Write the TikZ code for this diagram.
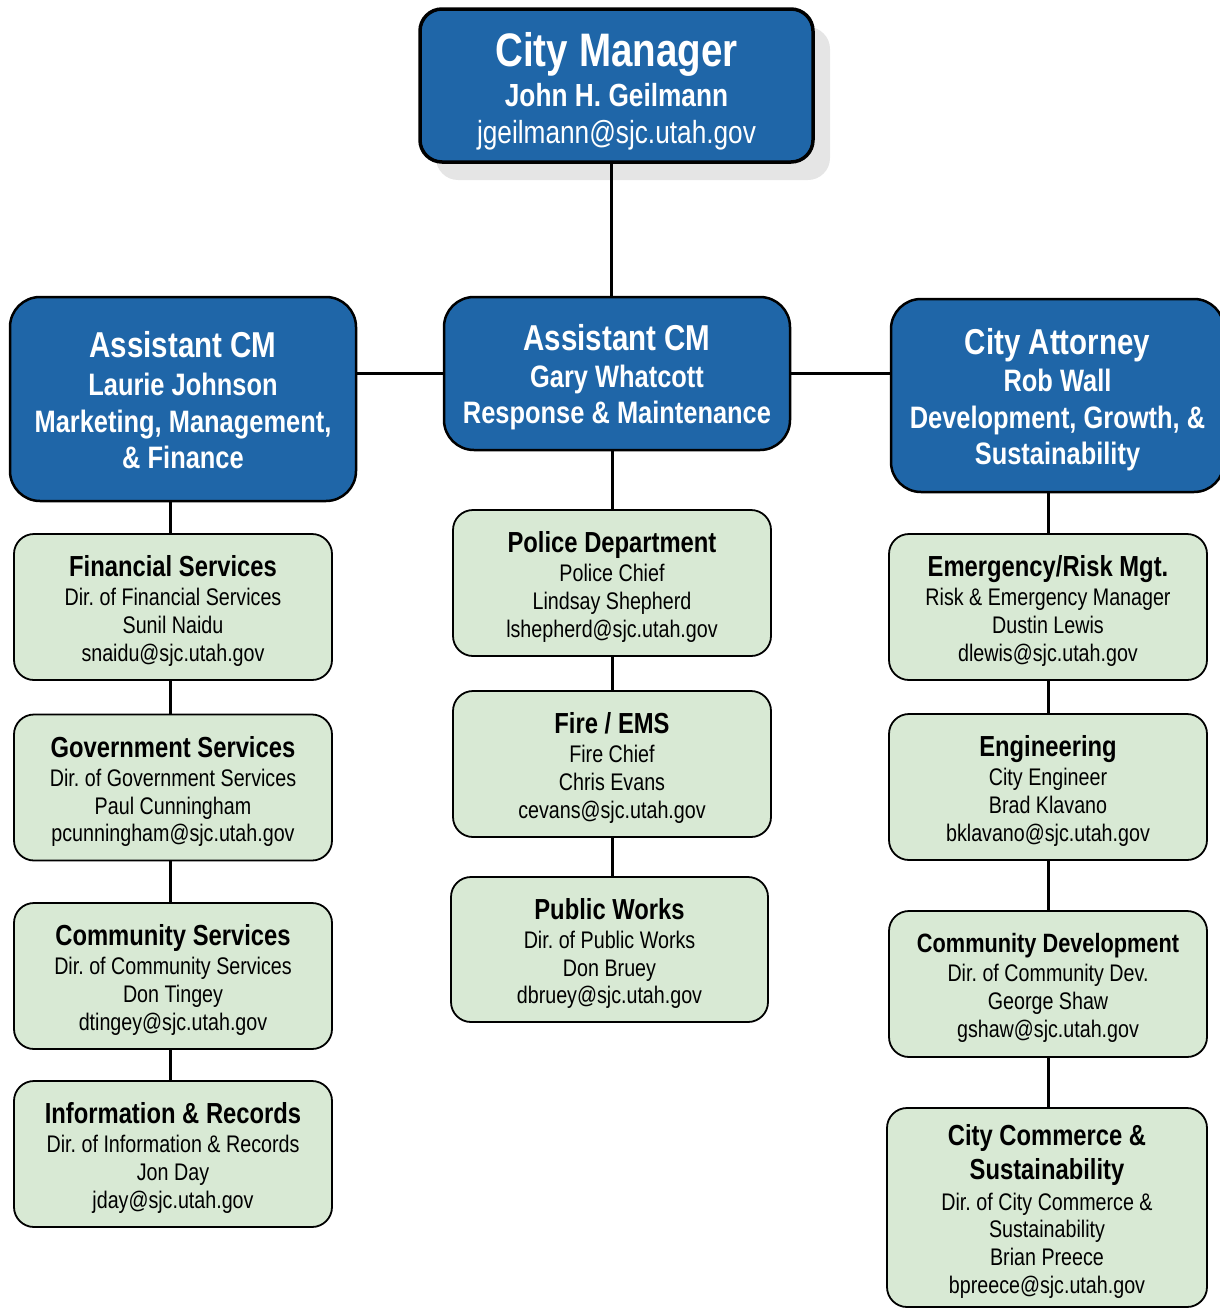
\documentclass[tikz,border=0pt]{standalone}
\usepackage{fontspec}
\setmainfont{Liberation Sans}[FakeStretch=0.82]
\definecolor{boxblue}{RGB}{31,102,168}
\definecolor{boxgreen}{RGB}{216,233,212}
\definecolor{shadowgray}{RGB}{229,229,229}
\newcommand\spc{\spaceskip=0.23em\relax\xspaceskip=0.23em\relax}
\newcommand\lnB[3]{{\fontsize{#1}{#2}\selectfont\bfseries\spc #3\par}}
\newcommand\lnR[3]{{\fontsize{#1}{#2}\selectfont\spc #3\par}}
% first line with a top strut of height #4 (moves the text block down)
\newcommand\lnF[4]{{\fontsize{#1}{#2}\selectfont\bfseries\spc\rule{0pt}{#4pt}#3\par}}
\tikzset{
  basebox/.style={inner sep=0pt, align=flush center,
    execute at begin node={\parindent=0pt\relax}},
  bluebox/.style={basebox, draw=black, line width=2.5pt, fill=boxblue,
    text=white, rounded corners=30pt},
  greenbox/.style={basebox, draw=black, line width=1.8pt, fill=boxgreen,
    text=black, rounded corners=20pt},
  link/.style={draw=black, line width=3pt},
}
\begin{document}
\begin{tikzpicture}[x=1pt,y=-1pt]
\useasboundingbox (0,0) rectangle (1220,1309);
% City Manager
\fill[shadowgray, rounded corners=22pt] (436,27) rectangle (830,180);
\node[bluebox, line width=3.5pt, rounded corners=22pt, text width=393pt, minimum height=153pt] (cm) at (616.5,85.5)
 {\lnF{47}{40}{City Manager}{45}\lnB{32}{40}{John H. Geilmann}\lnR{32}{37}{jgeilmann@sjc.utah.gov}};
% Assistant CMs and attorney
\node[bluebox, text width=346pt, minimum height=204pt] (acm1) at (183,399)
 {\lnF{36}{37}{Assistant CM}{28}\lnB{31}{38}{Laurie Johnson}\lnB{31}{37}{Marketing, Management,}\lnB{31}{36}{\& Finance}};
\node[bluebox, text width=346pt, minimum height=153pt] (acm2) at (617,373.5)
 {\lnF{36}{37}{Assistant CM}{34}\lnB{31}{37}{Gary Whatcott}\lnB{31}{36}{Response \& Maintenance}};
\node[bluebox, text width=333pt, minimum height=193pt] (att) at (1057.5,395.5)
 {\lnF{36}{37}{City Attorney}{34}\lnB{31}{37}{Rob Wall}\lnB{31}{37}{Development, Growth, \&}\lnB{31}{36}{Sustainability}};
% Left column
\node[greenbox, text width=318pt, minimum height=146pt] (fin) at (173,607)
 {\lnF{29}{30}{Financial Services}{29}\lnR{24}{29}{Dir. of Financial Services}\lnR{24}{28}{Sunil Naidu}\lnR{24}{27.5}{snaidu@sjc.utah.gov}};
\node[greenbox, text width=318pt, minimum height=146pt] (gov) at (173,787.5)
 {\lnF{29}{30}{Government Services}{29}\lnR{24}{29}{Dir. of Government Services}\lnR{24}{28}{Paul Cunningham}\lnR{24}{27.5}{pcunningham@sjc.utah.gov}};
\node[greenbox, text width=318pt, minimum height=146pt] (com) at (173,976)
 {\lnF{29}{30}{Community Services}{29}\lnR{24}{29}{Dir. of Community Services}\lnR{24}{28}{Don Tingey}\lnR{24}{27.5}{dtingey@sjc.utah.gov}};
\node[greenbox, text width=318pt, minimum height=146pt] (inf) at (173,1154)
 {\lnF{29}{30}{Information \& Records}{29}\lnR{24}{29}{Dir. of Information \& Records}\lnR{24}{28}{Jon Day}\lnR{24}{27.5}{jday@sjc.utah.gov}};
% Middle column
\node[greenbox, text width=318pt, minimum height=146pt] (pol) at (612,583)
 {\lnF{29}{30}{Police Department}{29}\lnR{24}{29}{Police Chief}\lnR{24}{28}{Lindsay Shepherd}\lnR{24}{27.5}{lshepherd@sjc.utah.gov}};
\node[greenbox, text width=318pt, minimum height=146pt] (fire) at (612,764)
 {\lnF{29}{30}{Fire / EMS}{29}\lnR{24}{29}{Fire Chief}\lnR{24}{28}{Chris Evans}\lnR{24}{27.5}{cevans@sjc.utah.gov}};
\node[greenbox, text width=317pt, minimum height=145pt] (pw) at (609.5,949.5)
 {\lnF{29}{30}{Public Works}{29}\lnR{24}{29}{Dir. of Public Works}\lnR{24}{28}{Don Bruey}\lnR{24}{27.5}{dbruey@sjc.utah.gov}};
% Right column
\node[greenbox, text width=318pt, minimum height=146pt] (emr) at (1048,607)
 {\lnF{29}{30}{Emergency/Risk Mgt.}{29}\lnR{24}{29}{Risk \& Emergency Manager}\lnR{24}{28}{Dustin Lewis}\lnR{24}{27.5}{dlewis@sjc.utah.gov}};
\node[greenbox, text width=318pt, minimum height=146pt] (eng) at (1048,787)
 {\lnF{29}{30}{Engineering}{29}\lnR{24}{29}{City Engineer}\lnR{24}{28}{Brad Klavano}\lnR{24}{27.5}{bklavano@sjc.utah.gov}};
\node[greenbox, text width=318pt, minimum height=146pt] (cd) at (1048,984)
 {\lnF{26.5}{30}{Community Development}{27}\lnR{24}{29}{Dir. of Community Dev.}\lnR{24}{28}{George Shaw}\lnR{24}{27.5}{gshaw@sjc.utah.gov}};
\node[greenbox, text width=320pt, minimum height=199pt] (ccs) at (1047,1207.5)
 {\lnF{29}{30}{City Commerce \&}{29}\lnB{29}{34}{Sustainability}\lnR{24}{31}{Dir. of City Commerce \&}\lnR{24}{27.5}{Sustainability}\lnR{24}{28}{Brian Preece}\lnR{24}{28}{bpreece@sjc.utah.gov}};
% Connectors
\draw[link] ([xshift=-5pt]cm.south) -- ([xshift=-5pt]cm.south |- acm2.north);
\draw[link] (acm2.west) -- (acm2.west -| acm1.east);
\draw[link] (acm2.east) -- (acm2.east -| att.west);
\draw[link] ([xshift=-3pt]fin.north) -- ([xshift=-3pt]fin.north |- acm1.south);
\draw[link] ([xshift=-3pt]fin.south) -- ([xshift=-3pt]fin.south |- gov.north);
\draw[link] ([xshift=-3pt]gov.south) -- ([xshift=-3pt]gov.south |- com.north);
\draw[link] ([xshift=-3pt]com.south) -- ([xshift=-3pt]com.south |- inf.north);
\draw[link] (pol.north) -- (pol.north |- acm2.south);
\draw[link] (pol.south) -- (pol.south |- fire.north);
\draw[link] (fire.south) -- (fire.south |- pw.north);
\draw[link] (emr.north) -- (emr.north |- att.south);
\draw[link] (emr.south) -- (emr.south |- eng.north);
\draw[link] (eng.south) -- (eng.south |- cd.north);
\draw[link] (cd.south) -- (cd.south |- ccs.north);
\end{tikzpicture}
\end{document}
